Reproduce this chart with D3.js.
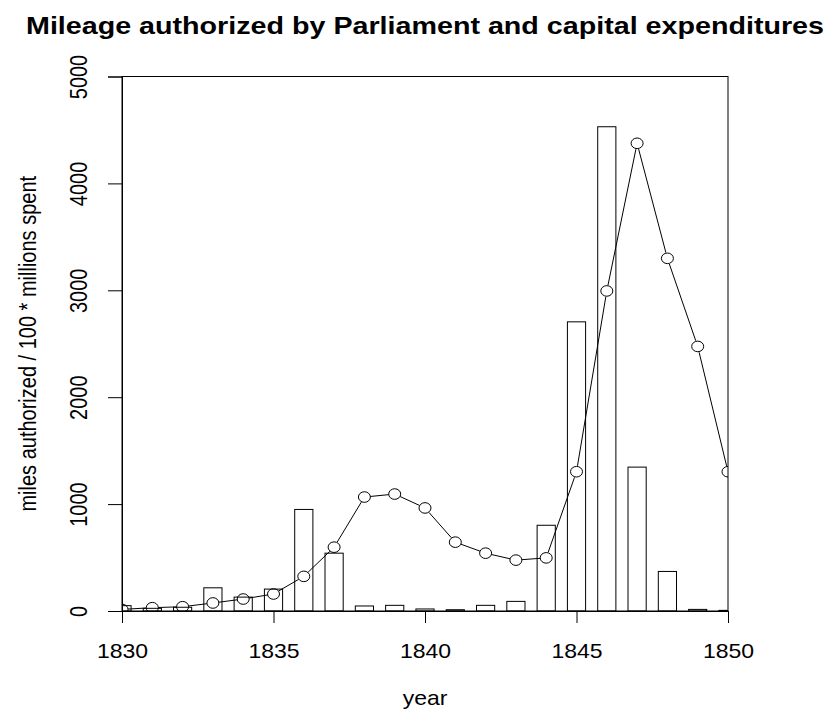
<!DOCTYPE html>
<html>
<head>
<meta charset="utf-8">
<script src="https://cdn.jsdelivr.net/npm/d3@7/dist/d3.min.js"></script>
<style>
  html, body { margin: 0; padding: 0; background: #ffffff; }
  svg { display: block; }
  text { font-family: "Liberation Sans", Arial, Helvetica, sans-serif; fill: #000; }
</style>
</head>
<body>
<svg id="chart" width="828" height="712"></svg>
<script>
// ---- data ----
const years = [1830,1831,1832,1833,1834,1835,1836,1837,1838,1839,1840,
               1841,1842,1843,1844,1845,1846,1847,1848,1849,1850];
// bars: miles authorized by Parliament
const milesAuthorized = [50,25,35,217,130,205,950,541,47,53,19,
                         12,53,90,802,2705,4530,1346,370,15,6];
// line: 100 * millions spent (capital expenditures)
const moneySpent100 = [15,31,40,75,112,159,324,597,1066,1094,964,
                       644,541,476,497,1303,2994,4375,3299,2475,1303];
const xTicks = [1830,1835,1840,1845,1850];
const yTicks = [0,1000,2000,3000,4000,5000];
const titleText = "Mileage authorized by Parliament and capital expenditures";
const xLabel = "year";
const yLabel = "miles authorized / 100 * millions spent";

// ---- layout ----
const W = 828, H = 712;
const L = 122, R = 728, T = 76.5, B = 611;
const SX = 1.15;           // horizontal stretch of the original device
const svg = d3.select("#chart");

const x = d3.scaleLinear().domain([1830, 1850]).range([L, R]);
const y = d3.scaleLinear().domain([0, 5000]).range([B, T]);

svg.append("defs").append("clipPath").attr("id", "plotclip")
  .append("rect").attr("x", L).attr("y", T).attr("width", R - L).attr("height", B - T);

const plot = svg.append("g").attr("clip-path", "url(#plotclip)");

// bars
const barW = 0.6;
plot.selectAll("rect.bar").data(years.map((yr, i) => ({yr, v: milesAuthorized[i]})))
  .enter().append("rect").attr("class", "bar")
  .attr("x", d => x(d.yr - barW / 2))
  .attr("width", d => x(d.yr + barW / 2) - x(d.yr - barW / 2))
  .attr("y", d => y(d.v))
  .attr("height", d => y(0) - y(d.v))
  .attr("fill", "none").attr("stroke", "#000").attr("stroke-width", 1);

// line with gaps around points (type = "b")
const pts = years.map((yr, i) => ({px: x(yr), py: y(moneySpent100[i])}));
const rx = 6, ry = 5.3;
const gap = 6;
for (let i = 0; i < pts.length - 1; i++) {
  const a = pts[i], b = pts[i + 1];
  const dx = b.px - a.px, dy = b.py - a.py;
  const len = Math.hypot(dx, dy);
  if (len <= 2 * gap) continue;
  const ux = dx / len, uy = dy / len;
  plot.append("line")
    .attr("x1", a.px + ux * gap).attr("y1", a.py + uy * gap)
    .attr("x2", b.px - ux * gap).attr("y2", b.py - uy * gap)
    .attr("stroke", "#000").attr("stroke-width", 1);
}
plot.append("g").selectAll("ellipse").data(pts).enter().append("ellipse")
  .attr("cx", d => d.px).attr("cy", d => d.py)
  .attr("rx", rx).attr("ry", ry)
  .attr("fill", "none").attr("stroke", "#000").attr("stroke-width", 1);

// box
svg.append("rect").attr("x", L).attr("y", T).attr("width", R - L).attr("height", B - T)
  .attr("fill", "none").attr("stroke", "#000").attr("stroke-width", 1);

// x axis
const xAxis = d3.axisBottom(x).tickValues(xTicks).tickSize(12).tickFormat(d3.format("d"));
const gx = svg.append("g").attr("transform", `translate(0,${B})`).call(xAxis);
gx.select(".domain").attr("stroke", "#000");
gx.selectAll(".tick line").attr("stroke", "#000");
gx.selectAll(".tick text").remove();
gx.selectAll(".tick").append("text")
  .attr("text-anchor", "middle")
  .attr("transform", `translate(0,47) scale(${SX},1)`)
  .style("font-size", "20px")
  .text(d => d3.format("d")(d));

// y axis
const yAxis = d3.axisLeft(y).tickValues(yTicks).tickSize(14);
const gy = svg.append("g").attr("transform", `translate(${L},0)`).call(yAxis);
gy.select(".domain").attr("stroke", "#000");
gy.selectAll(".tick line").attr("stroke", "#000");
gy.selectAll(".tick text").remove();
gy.selectAll(".tick").append("text")
  .attr("text-anchor", "middle")
  .attr("transform", `translate(-35,0) scale(${SX},1) rotate(-90)`)
  .style("font-size", "20px")
  .text(d => d);

// title
svg.append("text")
  .attr("text-anchor", "middle")
  .attr("transform", `translate(${(L + R) / 2},34)`)
  .attr("textLength", 798).attr("lengthAdjust", "spacingAndGlyphs")
  .style("font-size", "24px").style("font-weight", "bold")
  .text(titleText);

// axis labels
svg.append("text")
  .attr("text-anchor", "middle")
  .attr("transform", `translate(${(L + R) / 2},705) scale(${SX},1)`)
  .style("font-size", "20px")
  .text(xLabel);

svg.append("text")
  .attr("text-anchor", "middle")
  .attr("transform", `translate(36,${(T + B) / 2}) scale(${SX},1) rotate(-90)`)
  .style("font-size", "20px")
  .text(yLabel);
</script>
</body>
</html>
